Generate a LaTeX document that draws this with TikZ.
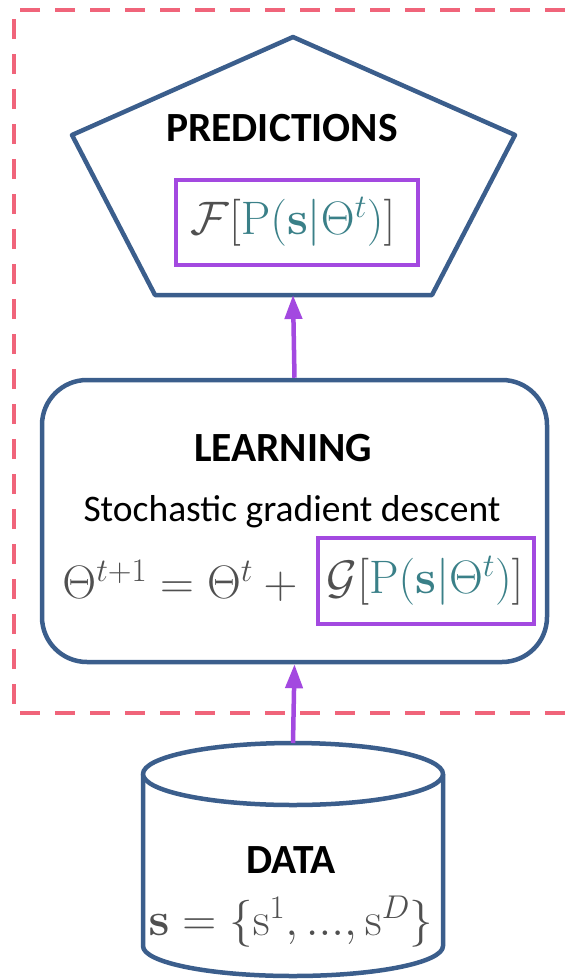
\RequirePackage{fix-cm}
\documentclass[tikz,border=0pt]{standalone}
\usepackage{amsmath}
\usepackage[no-math]{fontspec}
\setmainfont{Carlito}
\usetikzlibrary{arrows.meta}
\definecolor{navy}{RGB}{59,94,140}
\definecolor{purp}{RGB}{163,73,224}
\definecolor{dashred}{RGB}{240,100,122}
\definecolor{mgray}{RGB}{80,80,80}
\definecolor{mteal}{RGB}{58,128,136}
\tikzset{
  outline/.style={draw=navy, line width=4.5pt, line join=round},
  dashbox/.style={draw=dashred, line width=4pt, dash pattern=on 20pt off 15pt},
  hlbox/.style={draw=purp, line width=4pt, inner sep=0pt},
  flow/.style={draw=purp, line width=4.5pt, -{Triangle[length=24pt,width=17pt]}, shorten >=0pt},
  heading/.style={font=\fontsize{41.5}{48}\selectfont\bfseries, inner sep=0pt},
  body/.style={font=\fontsize{37.5}{44}\selectfont, inner sep=0pt},
  formula/.style={font=\fontsize{47}{56}\selectfont, inner sep=0pt, text=mgray},
}
\begin{document}
\begin{tikzpicture}[x=1pt,y=-1pt]
\useasboundingbox (0,0) rectangle (565,980);
% dashed frame (open at the right)
\draw[dashbox] (565,10) -- (14,10) -- (14,713) -- (565,713);
% predictions pentagon
\coordinate (pA) at (293,37);
\coordinate (pB) at (515,135);
\coordinate (pC) at (432,295);
\coordinate (pD) at (155,295);
\coordinate (pE) at (72,135);
\draw[outline] (pA) -- (pB) -- (pC) -- (pD) -- (pE) -- cycle;
\coordinate (predbot) at (293,295);
\node[heading] (predtitle) at (282,128) {PREDICTIONS};
\node[hlbox, minimum width=242pt, minimum height=85pt] (predbox) at (297,222.5) {};
\node[formula] (predform) at (293,222) {$\mathcal{F}[\textcolor{mteal}{\mathrm{P}(\mathbf{s}|\Theta^{t})}]$};
% learning box
\node[outline, rounded corners=45pt, minimum width=505pt, minimum height=282pt] (learn) at (294.5,521) {};
\node[heading] (learntitle) at (283,448) {LEARNING};
\node[body] (sgd) at (292,512) {Stochastic gradient descent};
\node[hlbox, minimum width=216pt, minimum height=86pt] (gbox) at (426,581) {};
\node[formula] (gform) at (425,581) {$\mathcal{G}[\textcolor{mteal}{\mathrm{P}(\mathbf{s}|\Theta^{t})}]$};
\node[formula, anchor=east] (update) at (308,581) {$\Theta^{t+1}=\Theta^{t}+{}$};
% data cylinder
\coordinate (cyltop) at (293,743);
\draw[outline] (143,774) -- (143,946) arc[start angle=180, end angle=0, x radius=150, y radius=30] -- (443,774);
\draw[outline, fill=white] (293,774) ellipse [x radius=150, y radius=31];
\node[heading] (datatitle) at (291,860) {DATA};
\node[formula] (dataform) at (291,922) {$\mathbf{s}=\{\mathrm{s}^{1},...,\mathrm{s}^{D}\}$};
% arrows
\draw[flow] (learn.north) -- (predbot);
\draw[flow] (cyltop) -- (learn.south);
\end{tikzpicture}
\end{document}
